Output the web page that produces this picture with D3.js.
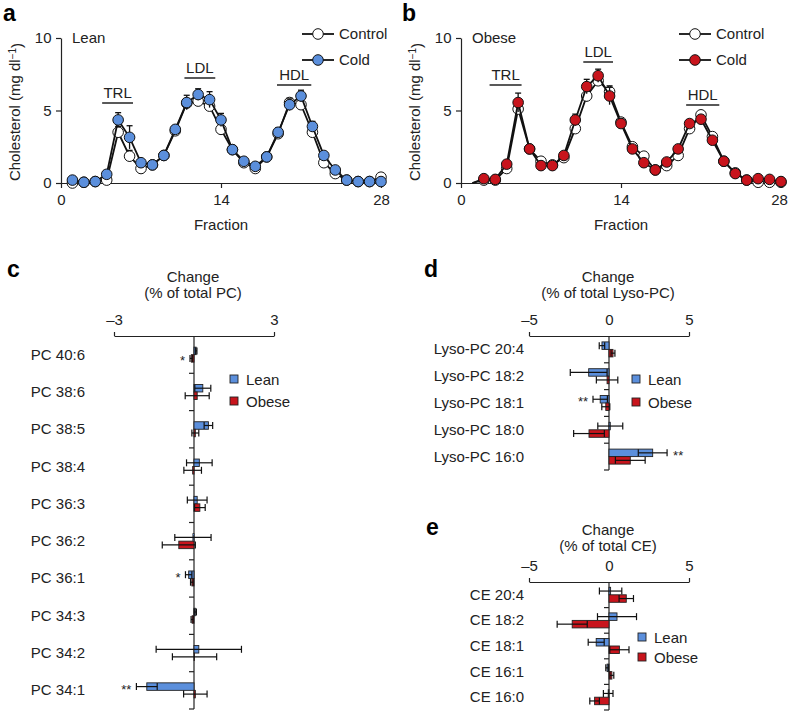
<!DOCTYPE html>
<html>
<head>
<meta charset="utf-8">
<script src="https://cdn.jsdelivr.net/npm/d3@7"></script>
<style>
body { margin: 0; background: #fff; }
text { font-family: "Liberation Sans", Arial, sans-serif; fill: #222; }
</style>
</head>
<body>
<svg id="chart" width="788" height="713"></svg>
<script>
// panel a/b data: cholesterol per FPLC fraction
var fractions = [1,2,3,4,5,6,7,8,9,10,11,12,13,14,15,16,17,18,19,20,21,22,23,24,25,26,27,28];

var leanControl    = [0.0,0.05,0.1,0.2,3.5,1.85,1.0,1.25,1.9,3.6,5.5,5.65,5.3,3.7,2.3,1.4,1.0,1.8,3.4,5.55,5.4,3.5,1.4,0.65,0.2,0.1,0.1,0.4];
var leanControlErr = [0.05,0.05,0.05,0.1,0.4,0.4,0.1,0.1,0.1,0.2,0.3,0.3,0.3,0.3,0.1,0.1,0.1,0.1,0.2,0.3,0.3,0.3,0.1,0.1,0.05,0.05,0.05,0.05];
var leanCold       = [0.2,0.05,0.1,0.6,4.35,3.15,1.4,1.25,1.9,3.7,5.55,6.1,5.75,4.35,2.3,1.5,1.15,1.8,3.5,5.4,6.0,3.9,1.9,0.9,0.2,0.1,0.1,0.1];
var leanColdErr    = [0.05,0.05,0.05,0.1,0.5,0.8,0.15,0.1,0.15,0.25,0.5,0.4,0.55,0.45,0.15,0.1,0.1,0.15,0.3,0.4,0.4,0.35,0.2,0.15,0.05,0.05,0.05,0.05];

var obeseControl    = [0.0,0.2,0.2,1.0,5.1,2.35,1.5,1.25,1.75,3.75,6.0,7.05,6.3,4.2,2.5,1.85,0.9,1.2,1.9,3.75,4.7,3.2,1.5,0.7,0.2,0.05,0.05,0.05];
var obeseControlErr = [0,0.05,0.05,0.1,0.3,0.15,0.1,0.1,0.1,0.3,0.4,0.3,0.4,0.2,0.1,0.1,0.1,0.1,0.1,0.2,0.2,0.2,0.1,0.1,0.05,0.05,0.05,0.05];
var obeseCold       = [0.0,0.3,0.25,1.3,5.55,2.35,1.2,1.2,1.9,4.35,6.65,7.4,6.0,4.1,2.35,1.4,0.9,1.45,2.35,4.1,4.4,2.95,1.5,0.65,0.2,0.3,0.25,0.1];
var obeseColdErr    = [0,0.05,0.05,0.15,0.65,0.15,0.1,0.1,0.15,0.4,0.5,0.45,0.6,0.3,0.15,0.1,0.1,0.1,0.15,0.25,0.25,0.2,0.1,0.1,0.05,0.05,0.05,0.05];

// panel c
var pcCats      = ["PC 40:6","PC 38:6","PC 38:5","PC 38:4","PC 36:3","PC 36:2","PC 36:1","PC 34:3","PC 34:2","PC 34:1"];
var pcLean      = [0.08,0.33,0.54,0.2,0.12,-0.04,-0.2,0.05,0.18,-1.77];
var pcLeanErr   = [0.03,0.3,0.16,0.48,0.37,0.68,0.12,0.04,1.6,0.39];
var pcObese     = [-0.1,0.12,0.05,-0.05,0.22,-0.57,-0.08,-0.07,0.02,0.05];
var pcObeseErr  = [0.05,0.45,0.13,0.33,0.2,0.62,0.05,0.04,0.83,0.44];
var pcStars     = [{cat:"PC 40:6", s:"obese", t:"*"}, {cat:"PC 36:1", s:"lean", t:"*"}, {cat:"PC 34:1", s:"lean", t:"**"}];

// panel d
var lysoCats     = ["Lyso-PC 20:4","Lyso-PC 18:2","Lyso-PC 18:1","Lyso-PC 18:0","Lyso-PC 16:0"];
var lysoLean     = [-0.44,-1.27,-0.55,0.08,2.73];
var lysoLeanErr  = [0.17,1.15,0.45,0.78,0.9];
var lysoObese    = [0.25,-0.12,-0.2,-1.25,1.33];
var lysoObeseErr = [0.12,0.67,0.25,0.96,0.93];
var lysoStars    = [{cat:"Lyso-PC 18:1", s:"lean", t:"**"}, {cat:"Lyso-PC 16:0", s:"lean", t:"**"}];

// panel e
var ceCats     = ["CE 20:4","CE 18:2","CE 18:1","CE 16:1","CE 16:0"];
var ceLean     = [0.1,0.5,-0.8,-0.12,-0.05];
var ceLeanErr  = [0.7,1.22,0.5,0.08,0.3];
var ceObese    = [1.08,-2.3,0.65,0.18,-0.9];
var ceObeseErr = [0.45,0.94,0.6,0.12,0.3];

var blue = "#5b8fdc", red = "#c8141c";

var svg = d3.select("#chart");

function panelLetter(x, y, t) {
  svg.append("text").attr("x", x).attr("y", y)
    .style("font-size", "23px").style("font-weight", "bold").style("fill", "#000").text(t);
}

function linePanel(o) {
  var x = d3.scaleLinear().domain([0, 28]).range([o.x0, o.x0 + 320]);
  var y = d3.scaleLinear().domain([0, 10]).range([183, 38]);
  var g = svg.append("g");

  g.append("g").attr("transform", "translate(0," + y(0) + ")")
    .call(d3.axisBottom(x).tickValues([0, 14, 28]).tickSize(5).tickSizeOuter(0))
    .call(ax => ax.selectAll("text").style("font-size", "15px").attr("dy", "0.95em"))
    .call(ax => ax.selectAll(".tick").filter(d => d === 28).select("text").attr("dx", o.lastDx));
  g.append("g").attr("transform", "translate(" + x(0) + ",0)")
    .call(d3.axisLeft(y).tickValues([0, 5, 10]).tickSize(5).tickSizeOuter(0))
    .call(ax => ax.selectAll("text").style("font-size", "15px").attr("dx", "-0.1em"));
  g.selectAll(".domain, .tick line").attr("stroke", "#222").attr("stroke-width", 1.2);

  g.append("text").attr("x", x(14)).attr("y", 230).attr("text-anchor", "middle")
    .style("font-size", "15px").text("Fraction");
  var yl = g.append("text").attr("transform", "translate(" + (o.x0 - 41) + ",112) rotate(-90)")
    .attr("text-anchor", "middle").style("font-size", "15px");
  yl.append("tspan").text("Cholesterol (mg dl");
  yl.append("tspan").attr("dy", "-0.45em").style("font-size", "10px").text("\u22121");
  yl.append("tspan").attr("dy", "0.45em").text(")");

  g.append("text").attr("x", o.x0 + 11).attr("y", 43).style("font-size", "15px").text(o.group);

  // lipoprotein class labels
  o.classes.forEach(function(c) {
    g.append("line").attr("x1", x(c.from)).attr("x2", x(c.to)).attr("y1", c.y).attr("y2", c.y)
      .attr("stroke", "#222").attr("stroke-width", 1.5);
    g.append("text").attr("x", (x(c.from) + x(c.to)) / 2).attr("y", c.y - 5)
      .attr("text-anchor", "middle").style("font-size", "15px").text(c.name);
  });

  var series = [
    {v: o.control, e: o.controlErr, fill: "#fff"},
    {v: o.cold, e: o.coldErr, fill: o.color}
  ];
  var line = d3.line().x(d => x(d.f)).y(d => y(d.v));
  series.forEach(function(s) {
    var pts = fractions.map((f, i) => ({f: f, v: s.v[i], e: s.e[i]}));
    g.append("path").datum(pts).attr("d", line).attr("fill", "none")
      .attr("stroke", "#111").attr("stroke-width", 1.8);
    var shown = pts.filter(d => d.f >= o.firstMarker);
    var eb = g.append("g").selectAll("g").data(shown.filter(d => d.e > 0)).join("g")
      .attr("stroke", "#111").attr("stroke-width", 1.3);
    eb.append("line").attr("x1", d => x(d.f)).attr("x2", d => x(d.f))
      .attr("y1", d => y(d.v + d.e)).attr("y2", d => y(Math.max(0, d.v - d.e)));
    eb.append("line").attr("x1", d => x(d.f) - 3).attr("x2", d => x(d.f) + 3)
      .attr("y1", d => y(d.v + d.e)).attr("y2", d => y(d.v + d.e));
    g.append("g").selectAll("circle").data(shown).join("circle")
      .attr("cx", d => x(d.f)).attr("cy", d => y(d.v)).attr("r", 5.3)
      .attr("fill", s.fill).attr("stroke", "#111").attr("stroke-width", 1);
  });

  // legend
  [{t: "Control", fill: "#fff", y: 34}, {t: "Cold", fill: o.color, y: 60}].forEach(function(l) {
    g.append("line").attr("x1", o.legX).attr("x2", o.legX + 32).attr("y1", l.y).attr("y2", l.y)
      .attr("stroke", "#111").attr("stroke-width", 1.8);
    g.append("circle").attr("cx", o.legX + 16).attr("cy", l.y).attr("r", 5.3)
      .attr("fill", l.fill).attr("stroke", "#111");
    g.append("text").attr("x", o.legX + 37).attr("y", l.y + 5).style("font-size", "15px").text(l.t);
  });
}

function barPanel(o) {
  var x = d3.scaleLinear().domain(o.domain).range(o.xr);
  var y = d3.scaleBand().domain(o.cats).range(o.yr);
  var g = svg.append("g");
  var bh = 7.5;

  g.append("text").attr("x", x(0) - 1).attr("y", o.titleY).attr("text-anchor", "middle")
    .style("font-size", "15px").text("Change");
  g.append("text").attr("x", x(0) - 1).attr("y", o.titleY + 16).attr("text-anchor", "middle")
    .style("font-size", "15px").text(o.title);

  g.append("g").attr("transform", "translate(0," + o.yr[0] + ")")
    .call(d3.axisTop(x).tickValues(o.ticks).tickSize(4).tickSizeOuter(0)
      .tickFormat(d => d < 0 ? "\u2013" + Math.abs(d) : d))
    .call(ax => ax.selectAll("text").style("font-size", "15px").attr("dy", "-0.25em"))
    .call(ax => ax.selectAll(".tick").filter(d => d === 0).select("line").remove());

  // vertical zero axis with ticks between categories
  g.append("line").attr("x1", x(0)).attr("x2", x(0)).attr("y1", o.yr[0]).attr("y2", o.yr[1]);
  var bounds = o.cats.map(c => y(c) + y.bandwidth());
  g.selectAll(".btick").data(bounds).join("line").attr("class", "btick")
    .attr("x1", x(0) - 5).attr("x2", x(0)).attr("y1", d => d).attr("y2", d => d);
  g.selectAll(".domain, .tick line, line").attr("stroke", "#222").attr("stroke-width", 1.2);

  g.selectAll(".cat").data(o.cats).join("text").attr("class", "cat")
    .attr("x", o.labelX).attr("y", d => y(d) + y.bandwidth() / 2 + 5)
    .attr("text-anchor", "end").style("font-size", "15px").text(d => d);

  var groups = [
    {k: "lean", v: o.lean, e: o.leanErr, fill: blue, off: -bh},
    {k: "obese", v: o.obese, e: o.obeseErr, fill: red, off: 0}
  ];
  groups.forEach(function(s) {
    var rows = o.cats.map((c, i) => ({c: c, v: s.v[i], e: s.e[i]}));
    var cy = d => y(d.c) + y.bandwidth() / 2 + s.off;
    g.append("g").selectAll("rect").data(rows).join("rect")
      .attr("x", d => Math.min(x(0), x(d.v))).attr("width", d => Math.abs(x(d.v) - x(0)))
      .attr("y", cy).attr("height", bh)
      .attr("fill", s.fill).attr("stroke", "#222").attr("stroke-width", 0.9);
    var eb = g.append("g").selectAll("g").data(rows).join("g")
      .attr("stroke", "#111").attr("stroke-width", 1.2);
    eb.append("line").attr("x1", d => x(d.v - d.e)).attr("x2", d => x(d.v + d.e))
      .attr("y1", d => cy(d) + bh / 2).attr("y2", d => cy(d) + bh / 2);
    eb.append("line").attr("x1", d => x(d.v - d.e)).attr("x2", d => x(d.v - d.e))
      .attr("y1", d => cy(d) + bh / 2 - 3.5).attr("y2", d => cy(d) + bh / 2 + 3.5);
    eb.append("line").attr("x1", d => x(d.v + d.e)).attr("x2", d => x(d.v + d.e))
      .attr("y1", d => cy(d) + bh / 2 - 3.5).attr("y2", d => cy(d) + bh / 2 + 3.5);

    (o.stars || []).filter(st => st.s === s.k).forEach(function(st) {
      var r = rows.find(d => d.c === st.cat);
      var neg = r.v < 0;
      g.append("text")
        .attr("x", neg ? x(r.v - r.e) - 5 : x(r.v + r.e) + 6)
        .attr("y", cy(r) + bh / 2 + 7)
        .attr("text-anchor", neg ? "end" : "start")
        .style("font-size", "13px").text(st.t);
    });
  });

  [{t: "Lean", fill: blue, y: o.legY}, {t: "Obese", fill: red, y: o.legY + o.legGap}].forEach(function(l) {
    g.append("rect").attr("x", o.legX - 4).attr("y", l.y - 4).attr("width", 8).attr("height", 8)
      .attr("fill", l.fill).attr("stroke", "#222").attr("stroke-width", 0.9);
    g.append("text").attr("x", o.legX + 12).attr("y", l.y + 5.5).style("font-size", "15px").text(l.t);
  });
}

panelLetter(3, 21, "a");
panelLetter(402, 21, "b");
panelLetter(7, 277, "c");
panelLetter(424, 277, "d");
panelLetter(426, 535, "e");

linePanel({x0: 61, group: "Lean", control: leanControl, controlErr: leanControlErr,
  cold: leanCold, coldErr: leanColdErr, color: blue, firstMarker: 1, legX: 302, lastDx: 0,
  classes: [{name: "TRL", from: 3.6, to: 6.3, y: 103}, {name: "LDL", from: 10.8, to: 13.5, y: 78},
            {name: "HDL", from: 18.9, to: 21.9, y: 85}]});

linePanel({x0: 461, group: "Obese", control: obeseControl, controlErr: obeseControlErr,
  cold: obeseCold, coldErr: obeseColdErr, color: red, firstMarker: 2, legX: 679, lastDx: -2,
  classes: [{name: "TRL", from: 2.5, to: 5.3, y: 85}, {name: "LDL", from: 10.7, to: 13.3, y: 62},
            {name: "HDL", from: 19.7, to: 22.6, y: 105}]});

barPanel({cats: pcCats, lean: pcLean, leanErr: pcLeanErr, obese: pcObese, obeseErr: pcObeseErr,
  stars: pcStars, domain: [-3, 3], xr: [114, 274], yr: [336, 709], ticks: [-3, 3],
  title: "(% of total PC)", titleY: 282, labelX: 85, legX: 234, legY: 379, legGap: 22});

barPanel({cats: lysoCats, lean: lysoLean, leanErr: lysoLeanErr, obese: lysoObese, obeseErr: lysoObeseErr,
  stars: lysoStars, domain: [-5, 5], xr: [529, 689], yr: [336, 470], ticks: [-5, 0, 5],
  title: "(% of total Lyso-PC)", titleY: 282, labelX: 524, legX: 636, legY: 379, legGap: 23});

barPanel({cats: ceCats, lean: ceLean, leanErr: ceLeanErr, obese: ceObese, obeseErr: ceObeseErr,
  domain: [-5, 5], xr: [529, 689], yr: [582, 710], ticks: [-5, 0, 5],
  title: "(% of total CE)", titleY: 535, labelX: 524, legX: 642, legY: 637, legGap: 20});
</script>
</body>
</html>
